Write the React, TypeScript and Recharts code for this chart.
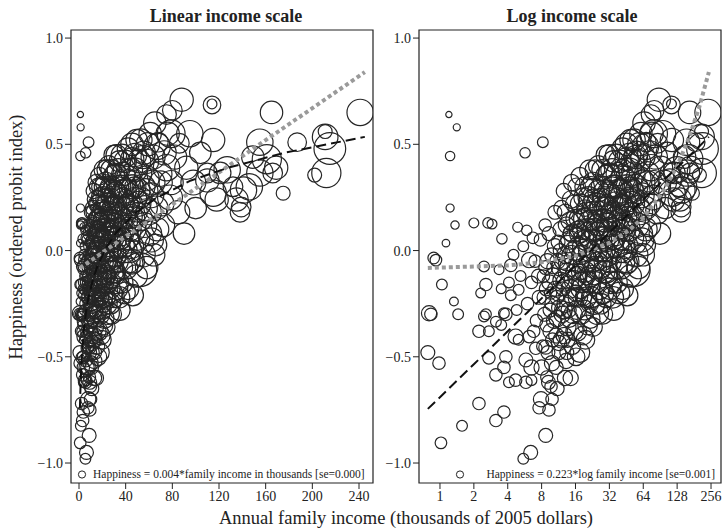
import React from "react";
import { ScatterChart, Scatter, XAxis, YAxis, ZAxis, ReferenceArea } from "recharts";

// [income in thousands, happiness, weight]
type Row = [number, number, number];

const linTicks = [0, 40, 80, 120, 160, 200, 240];
const logTicks = [1, 2, 4, 8, 16, 32, 64, 128, 256];
const hapTicks = [-1, -0.5, 0, 0.5, 1];

// low incomes, mostly sparse outliers
const lowIncome: Row[] = [
  [1.2, 0.64, 1], [1.41, 0.58, 1.3], [1.23, 0.445, 2.3], [1.23, 0.2, 1.7], [1.36, 0.12, 1.8],
  [2.0, 0.13, 2.5], [2.67, 0.13, 2.8], [2.9, 0.125, 2.5], [3.55, 0.055, 2.8], [1.13, 0.035, 1.5],
  [5.7, 0.46, 2.8], [8.2, 0.51, 3], [4.9, 0.11, 2.5], [5.9, 0.095, 2.8], [6.7, 0.06, 3.5],
  [0.92, -0.045, 3.5], [0.88, -0.035, 3.5], [2.46, -0.075, 3], [3.35, -0.09, 2.5], [4.26, -0.07, 4],
  [6.2, -0.045, 6], [1.04, -0.16, 3], [1.33, -0.24, 2], [2.56, -0.16, 4], [2.3, -0.2, 2.5],
  [3.5, -0.18, 2.5], [4.1, -0.15, 3], [4.26, -0.21, 3], [5.0, -0.185, 3], [0.8, -0.295, 6],
  [0.83, -0.3, 4], [1.45, -0.3, 3], [2.56, -0.3, 3], [3.7, -0.295, 3], [2.46, -0.31, 3],
  [3.14, -0.335, 3], [3.85, -0.3, 4], [3.5, -0.35, 3], [2.22, -0.38, 4], [2.72, -0.38, 3],
  [0.78, -0.48, 5], [0.98, -0.53, 4], [2.72, -0.505, 4], [3.85, -0.5, 4], [3.7, -0.55, 4],
  [3.14, -0.585, 4], [4.7, -0.405, 6], [4.1, -0.62, 3], [4.7, -0.61, 4], [5.8, -0.62, 4],
  [2.22, -0.72, 4], [3.7, -0.76, 4], [3.14, -0.8, 4], [1.57, -0.825, 3], [1.02, -0.905, 3.5],
  [8.7, -0.87, 5], [6.4, -0.95, 5], [5.5, -0.98, 3], [5.8, -0.515, 5], [6.5, -0.55, 6],
  [8.0, -0.55, 6], [9.9, -0.53, 6], [8.9, -0.595, 4], [7.9, -0.7, 6], [9.9, -0.7, 4],
  [7.6, -0.74, 4], [9.3, -0.75, 4], [9.7, -0.64, 4], [6.5, -0.61, 3], [6.2, -0.405, 4],
  [7.1, -0.46, 4], [8.7, -0.455, 5], [11.4, -0.435, 6], [13.4, -0.48, 5],
  [4.5, -0.02, 3], [5.2, -0.12, 3], [5.5, 0.02, 3], [6.0, -0.25, 4], [6.5, -0.15, 4],
  [7.0, -0.05, 4], [7.2, -0.33, 4], [7.6, -0.22, 5], [7.8, 0.05, 4], [6.8, -0.38, 4],
  [5.0, -0.42, 3], [4.8, -0.28, 3], [7.5, -0.12, 5],
];

// the dense middle of the distribution
const midIncome: Row[] = [
  [8.2, -0.45, 4], [8.5, -0.3, 5], [8.8, -0.18, 5], [9.0, -0.05, 6], [9.3, 0.08, 5],
  [9.6, -0.38, 6], [10, -0.25, 6], [10.2, -0.12, 7], [10.5, 0.02, 6], [10.8, -0.55, 5],
  [11, -0.32, 7], [11.3, -0.2, 7], [11.5, -0.08, 7], [11.8, 0.1, 6], [12, -0.42, 7],
  [9.2, -0.62, 5], [10.5, 0.18, 5], [8.6, 0.12, 4], [12, 0.2, 6], [11, -0.65, 5],
  [9.5, -0.28, 5], [10.8, -0.4, 6],
  [12.5, -0.28, 8], [12.8, -0.15, 8], [13, -0.02, 8], [13.3, 0.12, 7], [13.5, -0.36, 8],
  [13.8, -0.22, 9], [14, -0.08, 9], [14.3, 0.05, 9], [14.6, 0.24, 8], [15, -0.45, 7],
  [15.2, -0.3, 9], [15.5, -0.14, 10], [15.8, 0.0, 10], [15.9, 0.15, 9], [14.8, 0.32, 7],
  [12.6, 0.28, 6], [13.2, -0.52, 6], [14.5, -0.6, 6],
  [16.5, -0.38, 10], [16.8, -0.22, 10], [17, -0.06, 10], [17.3, 0.08, 10], [17.6, 0.22, 10],
  [18, -0.3, 10], [18.3, -0.15, 11], [18.6, 0.02, 11], [19, 0.15, 11], [19.3, 0.3, 10],
  [19.6, -0.42, 9], [20, -0.22, 11], [20.3, -0.05, 12], [20.6, 0.1, 12], [21, 0.25, 12],
  [21.3, 0.38, 10], [21.6, -0.32, 10], [22, -0.12, 12], [22, 0.05, 12], [17.5, 0.35, 8],
  [16.2, -0.5, 8], [17.5, -0.48, 10], [22.9, -0.36, 9],
  [22.5, 0.18, 12], [23, 0.32, 11], [23.5, -0.25, 12], [24, -0.08, 13], [24.5, 0.08, 13],
  [25, 0.22, 12], [25.5, 0.4, 10], [26, -0.18, 12], [26.5, 0.0, 13], [27, 0.14, 13],
  [27.5, 0.3, 12], [28, -0.3, 10], [28.5, -0.1, 13], [29, 0.06, 13], [29.5, 0.2, 13],
  [30, 0.35, 12], [30.5, -0.02, 14], [31, 0.12, 14], [31.5, 0.27, 13], [32, 0.45, 11],
  [25, -0.295, 13], [30, -0.22, 11],
  [33, -0.15, 13], [33.5, 0.02, 14], [34, 0.16, 14], [34.5, 0.3, 14], [35, 0.42, 12],
  [36, -0.08, 14], [36.5, 0.08, 15], [37, 0.22, 15], [38, 0.36, 14], [39, -0.2, 12],
  [39.5, 0.0, 15], [40, 0.14, 15], [41, 0.28, 15], [42, 0.48, 12], [42.5, -0.05, 14],
  [43, 0.1, 15], [44, 0.22, 15], [44.5, 0.38, 14], [35, -0.28, 11], [45, 0.02, 15],
  [45.6, 0.43, 14],
  [46, 0.15, 15], [47, 0.3, 15], [48, 0.45, 14], [49, -0.12, 13], [50, 0.06, 16],
  [51, 0.22, 16], [52, 0.36, 15], [53, 0.52, 13], [55, -0.02, 15], [56, 0.12, 16],
  [57, 0.28, 16], [58, 0.42, 15], [60, 0.18, 16], [61, 0.55, 13], [62, 0.05, 15],
  [63, 0.32, 16], [46, -0.21, 12], [52, -0.09, 30], [45.6, -0.06, 12], [66, 0.026, 12],
];

// more of the overlapping core
const coreIncome: Row[] = [
  [8.4, -0.22, 5], [8.9, -0.35, 5], [9.4, -0.15, 6], [9.8, -0.02, 5], [10.3, -0.33, 6],
  [10.6, -0.18, 6], [11.1, -0.05, 6], [11.6, -0.27, 7], [11.9, -0.14, 7], [9.1, -0.48, 5],
  [10.0, -0.42, 5], [11.2, 0.04, 5], [8.7, -0.08, 5], [12.2, -0.3, 7], [12.3, -0.05, 7],
  [12.7, -0.4, 7], [13.1, -0.25, 8], [13.4, -0.1, 8], [13.7, 0.03, 8], [14.1, -0.32, 8],
  [14.4, -0.18, 9], [14.7, -0.02, 9], [15.1, 0.08, 9], [15.4, -0.22, 9], [15.7, -0.38, 8],
  [13.0, 0.18, 7], [14.2, 0.14, 8], [15.6, 0.22, 8], [12.9, -0.6, 6],
  [16.3, -0.28, 9], [16.6, -0.12, 10], [16.9, 0.02, 10], [17.2, 0.15, 10], [17.8, -0.18, 10],
  [18.1, -0.02, 10], [18.5, 0.1, 11], [18.9, 0.25, 10], [19.2, -0.28, 10], [19.5, -0.1, 11],
  [19.8, 0.05, 11], [20.2, 0.18, 11], [20.5, -0.35, 10], [20.9, -0.15, 11], [21.2, 0.0, 12],
  [21.5, 0.14, 12], [21.9, 0.3, 11], [22.3, -0.22, 11], [22.7, -0.05, 12], [23.1, 0.1, 12],
  [23.6, 0.24, 12], [24.1, -0.15, 12], [18.7, -0.4, 9], [16.4, 0.3, 8], [23.8, 0.38, 10],
  [24.6, 0.0, 12], [25.1, 0.12, 12], [25.6, 0.28, 12], [26.1, -0.08, 13], [26.6, 0.06, 13],
  [27.1, 0.2, 13], [27.6, 0.38, 11], [28.1, -0.2, 12], [28.6, 0.0, 13], [29.1, 0.14, 13],
  [29.6, 0.28, 13], [30.1, -0.1, 13], [30.6, 0.05, 14], [31.1, 0.2, 14], [31.6, 0.36, 12],
  [32.2, -0.05, 14], [32.7, 0.1, 14], [33.2, 0.24, 14], [33.8, 0.38, 13], [34.3, -0.22, 12],
  [34.8, 0.06, 14], [26.8, -0.25, 11], [29.8, 0.45, 10], [32.5, -0.18, 12],
  [35.5, 0.15, 14], [36.2, 0.3, 14], [36.8, 0.45, 12], [37.5, 0.02, 14], [38.2, 0.16, 15],
  [38.8, 0.28, 15], [39.6, 0.42, 13], [40.3, -0.08, 14], [41, 0.06, 15], [41.7, 0.2, 15],
  [42.4, 0.34, 15], [43.2, 0.0, 15], [43.9, 0.16, 15], [44.6, 0.3, 15], [45.4, 0.5, 13],
  [46.2, -0.05, 14], [47, 0.1, 15], [47.8, 0.24, 15], [48.6, 0.38, 14], [49.4, 0.52, 12],
  [37, -0.15, 12], [42, -0.18, 12],
  [50.5, 0.28, 15], [51.5, 0.42, 14], [52.5, 0.15, 15], [53.5, 0.04, 15], [54.5, 0.3, 16],
  [55.5, 0.46, 14], [56.5, 0.2, 16], [58, 0.34, 16], [59, 0.5, 14], [60.5, 0.08, 15],
  [62, 0.26, 16], [63.5, 0.44, 15], [65, 0.6, 13], [67, 0.1, 14], [69, 0.36, 16],
  [71, 0.22, 15], [73, 0.46, 15], [76, 0.55, 14], [79, 0.32, 15], [82, 0.44, 15],
  [58, -0.08, 13], [64, -0.02, 13],
];

// smaller circles packed inside the darkest part of the cloud
const denseCore: Row[] = [
  [10.1, -0.08, 4], [10.9, -0.22, 5], [11.7, 0.0, 5], [12.4, -0.18, 5], [13.2, -0.06, 6],
  [13.9, -0.28, 6], [14.5, 0.08, 6], [15.3, -0.1, 6], [16.1, -0.2, 7], [16.7, 0.1, 7],
  [17.4, -0.1, 7], [18.2, 0.06, 7], [18.8, -0.22, 7], [19.4, 0.2, 7], [20.1, -0.12, 8],
  [20.8, 0.05, 8], [21.4, -0.25, 8], [22.1, 0.22, 8], [22.8, 0.0, 8], [23.4, -0.12, 8],
  [24.3, 0.15, 8], [25.3, -0.05, 9], [26.3, 0.1, 9], [27.3, 0.25, 9], [28.3, -0.05, 9],
  [29.3, 0.1, 9], [30.3, 0.22, 9], [31.3, -0.12, 9], [32.8, 0.18, 10], [34.1, 0.3, 10],
  [35.8, 0.05, 10], [37.8, 0.25, 10], [39.9, 0.1, 10], [42.2, 0.22, 10], [44.8, 0.12, 10],
  [47.5, 0.3, 10], [50.2, 0.18, 10], [54, 0.25, 10], [9.6, -0.2, 4], [8.3, -0.12, 4],
  [11.4, -0.48, 5], [13.6, -0.42, 6],
];

// higher incomes, sparser and larger
const highIncome: Row[] = [
  [88, 0.71, 14], [80, 0.66, 10], [114, 0.685, 8], [114, 0.69, 2.5], [115, 0.52, 14],
  [95, 0.55, 18], [86, 0.505, 10], [67, 0.49, 18], [75, 0.39, 18], [55, 0.44, 14],
  [92, 0.39, 14], [110, 0.365, 10], [121, 0.365, 12], [132, 0.3, 10], [118, 0.24, 14],
  [98, 0.32, 16], [104, 0.46, 12], [141, 0.285, 18], [135, 0.24, 14], [138, 0.18, 10],
  [75, 0.64, 10], [79, 0.55, 20], [68, 0.51, 10],
  [165, 0.65, 13], [241, 0.65, 18], [211, 0.56, 5], [211, 0.535, 17], [215, 0.48, 26],
  [212, 0.365, 22], [202, 0.355, 5], [187, 0.51, 9], [155, 0.51, 18], [161, 0.43, 22],
  [169, 0.39, 14], [175, 0.27, 5], [155, 0.365, 18], [146, 0.3, 18], [139, 0.205, 10],
  [166, 0.365, 10], [149, 0.44, 13], [115, 0.27, 18], [110, 0.33, 14], [127, 0.38, 18],
  [66, 0.2, 15], [72, 0.12, 14], [78, 0.25, 16], [85, 0.18, 14], [90, 0.08, 12],
  [70, 0.32, 14], [100, 0.2, 12],
];

// fitted lines
const logFit: Row[] = [
  [0.78, -0.745, 0], [1, -0.69, 0], [2, -0.535, 0], [4, -0.38, 0], [6, -0.29, 0],
  [8, -0.225, 0], [12, -0.135, 0], [16, -0.07, 0], [24, 0.02, 0], [32, 0.085, 0],
  [48, 0.175, 0], [64, 0.24, 0], [96, 0.33, 0], [128, 0.39, 0], [176, 0.46, 0], [245, 0.535, 0],
];
const linFit: Row[] = [
  [0.78, -0.082, 0], [4, -0.07, 0], [8, -0.055, 0], [16, -0.025, 0], [32, 0.036, 0],
  [48, 0.096, 0], [64, 0.156, 0], [96, 0.277, 0], [128, 0.398, 0], [160, 0.52, 0],
  [200, 0.67, 0], [245, 0.84, 0],
];

const toPts = (rows: Row[]) => rows.map(([inc, hap, w]) => ({ inc, hap, w }));
const points = toPts([...lowIncome, ...midIncome, ...coreIncome, ...denseCore, ...highIncome]);
const logLine = toPts(logFit);
const linLine = toPts(linFit);

const SERIF = '"Liberation Serif", "DejaVu Serif", serif';
const INK = "#222";
const HAP_DOMAIN: [number, number] = [-1.094, 1.038];
const LIN_DOMAIN: [number, number] = [-6.86, 252];
const LOG_DOMAIN: [number, number] = [0.651, 314];

const fmtHap = (v: number) => (v < 0 ? "\u2212" : "") + Math.abs(v).toFixed(1);
const tickStyle = { fontFamily: SERIF, fontSize: 14, fill: INK };
const noDot = () => <g />;

function Panel({ log, left, width, margin }: { log: boolean; left: number; width: number; margin: any }) {
  const xd = log ? LOG_DOMAIN : LIN_DOMAIN;
  return (
    <div style={{ position: "absolute", left, top: 0 }}>
      <ScatterChart width={width} height={529} margin={margin}>
        <XAxis
          type="number"
          dataKey="inc"
          scale={log ? "log" : "linear"}
          domain={xd}
          allowDataOverflow
          ticks={log ? logTicks : linTicks}
          interval={0}
          axisLine={false}
          tickLine={{ stroke: INK }}
          tickSize={6}
          tick={tickStyle}
          height={25}
        />
        <YAxis
          type="number"
          dataKey="hap"
          domain={HAP_DOMAIN}
          allowDataOverflow
          ticks={hapTicks}
          interval={0}
          axisLine={false}
          tickLine={{ stroke: INK }}
          tickSize={6}
          tick={tickStyle}
          tickFormatter={fmtHap}
          width={40}
        />
        <ZAxis type="number" dataKey="w" domain={[0, 50]} range={[0, 1520]} />
        <ReferenceArea x1={xd[0]} x2={xd[1]} y1={HAP_DOMAIN[0]} y2={HAP_DOMAIN[1]} fill="none" stroke={INK} strokeWidth={1.2} />
        <Scatter data={points} shape="circle" fill="none" stroke="#262626" strokeWidth={1.2} isAnimationActive={false} />
        <Scatter
          data={linLine}
          line={{ stroke: "#9a9a9a", strokeWidth: 4, strokeDasharray: "4 3" }}
          lineType="joint"
          shape={noDot}
          isAnimationActive={false}
        />
        <Scatter
          data={logLine}
          line={{ stroke: "#111", strokeWidth: 2, strokeDasharray: "10 5" }}
          lineType="joint"
          shape={noDot}
          isAnimationActive={false}
        />
      </ScatterChart>
    </div>
  );
}

export default function App() {
  return (
    <div style={{ position: "absolute", left: 0, top: 0, width: 724, height: 529, background: "#fff", fontFamily: SERIF }}>
      <Panel log={false} left={0} width={380} margin={{ top: 30, right: 7, bottom: 21, left: 31 }} />
      <Panel log={true} left={360} width={364} margin={{ top: 30, right: 3, bottom: 21, left: 19 }} />
      <svg width={724} height={529} style={{ position: "absolute", left: 0, top: 0, pointerEvents: "none" }}>
        <g fontFamily={SERIF} fill={INK}>
          <text x={226} y={22} textAnchor="middle" fontSize={18} fontWeight="bold">Linear income scale</text>
          <text x={572} y={22} textAnchor="middle" fontSize={18} fontWeight="bold">Log income scale</text>
          <text transform="translate(22,237) rotate(-90)" textAnchor="middle" fontSize={18.5}>Happiness (ordered probit index)</text>
          <text x={406} y={524} textAnchor="middle" fontSize={18.5}>Annual family income (thousands of 2005 dollars)</text>
          <text x={93} y={478} fontSize={11.5}>Happiness = 0.004*family income in thousands [se=0.000]</text>
          <text x={715} y={478} textAnchor="end" fontSize={11.5}>Happiness = 0.223*log family income [se=0.001]</text>
        </g>
        <circle cx={82} cy={474.5} r={3.6} fill="none" stroke={INK} strokeWidth={1} />
        <circle cx={460} cy={474.5} r={3.6} fill="none" stroke={INK} strokeWidth={1} />
      </svg>
    </div>
  );
}
